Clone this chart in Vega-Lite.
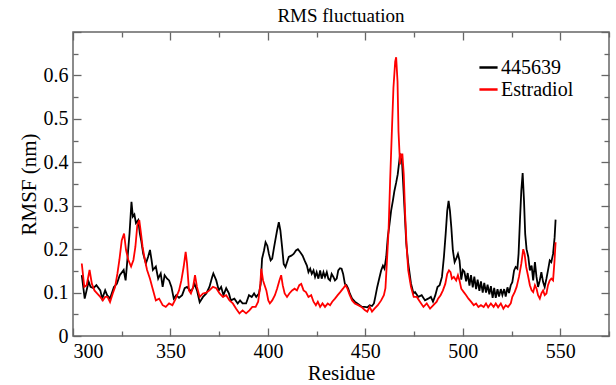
{
  "$schema": "https://vega.github.io/schema/vega-lite/v6.json",
  "width": 536,
  "height": 304,
  "autosize": {"type": "none"},
  "padding": {"left": 73, "top": 32, "right": 7, "bottom": 49},
  "background": "white",
  "title": {"text": "RMS fluctuation", "font": "Times New Roman, Liberation Serif, serif", "fontSize": 19, "fontWeight": "normal", "color": "black", "anchor": "middle", "offset": 5},
  "config": {
    "font": "Times New Roman, Liberation Serif, serif",
    "view": {"stroke": "#666666", "strokeWidth": 1.5},
    "axis": {"labelFont": "Times New Roman, Liberation Serif, serif", "labelFontSize": 20, "labelColor": "black", "titleFont": "Times New Roman, Liberation Serif, serif", "titleFontSize": 21, "titleFontWeight": "normal", "titleColor": "black", "tickColor": "#666666", "tickWidth": 1.3, "domain": false, "grid": false},
    "legend": {"orient": "none", "legendX": 405, "legendY": 25, "title": null, "symbolType": "stroke", "symbolSize": 330, "symbolStrokeWidth": 2.5, "labelFont": "Times New Roman, Liberation Serif, serif", "labelFontSize": 20, "labelColor": "black", "labelOffset": 2, "rowPadding": 1}
  },
  "datasets": {
    "black": [
      {"residue":304.5,"rmsf":0.14},{"residue":306,"rmsf":0.086},{"residue":308,"rmsf":0.125},{"residue":309,"rmsf":0.113},{"residue":310.5,"rmsf":0.11},{"residue":312,"rmsf":0.117},{"residue":314,"rmsf":0.105},{"residue":315,"rmsf":0.086},{"residue":316.5,"rmsf":0.105},{"residue":317.5,"rmsf":0.094},{"residue":319,"rmsf":0.086},{"residue":321,"rmsf":0.113},{"residue":322.5,"rmsf":0.12},{"residue":324,"rmsf":0.14},{"residue":326,"rmsf":0.152},{"residue":327,"rmsf":0.128},{"residue":327.8,"rmsf":0.17},{"residue":329,"rmsf":0.236},{"residue":330,"rmsf":0.309},{"residue":330.7,"rmsf":0.275},{"residue":331.5,"rmsf":0.28},{"residue":332.3,"rmsf":0.26},{"residue":333.5,"rmsf":0.267},{"residue":334.3,"rmsf":0.236},{"residue":335,"rmsf":0.22},{"residue":336,"rmsf":0.19},{"residue":337.4,"rmsf":0.167},{"residue":338.5,"rmsf":0.182},{"residue":339.5,"rmsf":0.198},{"residue":340.3,"rmsf":0.175},{"residue":341,"rmsf":0.152},{"residue":342.5,"rmsf":0.16},{"residue":343.7,"rmsf":0.132},{"residue":345,"rmsf":0.144},{"residue":346,"rmsf":0.113},{"residue":347,"rmsf":0.14},{"residue":348.3,"rmsf":0.132},{"residue":349.3,"rmsf":0.128},{"residue":350.5,"rmsf":0.113},{"residue":351.7,"rmsf":0.086},{"residue":353,"rmsf":0.094},{"residue":354.4,"rmsf":0.088},{"residue":356,"rmsf":0.094},{"residue":357.3,"rmsf":0.11},{"residue":358.5,"rmsf":0.113},{"residue":360,"rmsf":0.105},{"residue":361,"rmsf":0.105},{"residue":362.4,"rmsf":0.12},{"residue":363.6,"rmsf":0.105},{"residue":365,"rmsf":0.078},{"residue":366.7,"rmsf":0.09},{"residue":368.4,"rmsf":0.098},{"residue":370,"rmsf":0.113},{"residue":371.4,"rmsf":0.136},{"residue":372,"rmsf":0.144},{"residue":373.5,"rmsf":0.128},{"residue":374.8,"rmsf":0.105},{"residue":376,"rmsf":0.113},{"residue":377.2,"rmsf":0.094},{"residue":378.6,"rmsf":0.11},{"residue":380,"rmsf":0.098},{"residue":381,"rmsf":0.082},{"residue":382.8,"rmsf":0.086},{"residue":384.5,"rmsf":0.075},{"residue":385.7,"rmsf":0.082},{"residue":387,"rmsf":0.075},{"residue":388.8,"rmsf":0.075},{"residue":390.3,"rmsf":0.094},{"residue":391.7,"rmsf":0.09},{"residue":392.9,"rmsf":0.098},{"residue":394,"rmsf":0.09},{"residue":395.4,"rmsf":0.098},{"residue":396.3,"rmsf":0.12},{"residue":397,"rmsf":0.178},{"residue":398,"rmsf":0.197},{"residue":398.8,"rmsf":0.216},{"residue":399.7,"rmsf":0.208},{"residue":400.5,"rmsf":0.189},{"residue":401.4,"rmsf":0.174},{"residue":402.2,"rmsf":0.178},{"residue":403,"rmsf":0.2},{"residue":403.9,"rmsf":0.223},{"residue":404.7,"rmsf":0.243},{"residue":405.6,"rmsf":0.262},{"residue":406.4,"rmsf":0.243},{"residue":407.3,"rmsf":0.204},{"residue":408.1,"rmsf":0.166},{"residue":409,"rmsf":0.159},{"residue":409.8,"rmsf":0.17},{"residue":410.7,"rmsf":0.182},{"residue":412,"rmsf":0.185},{"residue":413.2,"rmsf":0.189},{"residue":414.4,"rmsf":0.197},{"residue":415.4,"rmsf":0.2},{"residue":416.6,"rmsf":0.193},{"residue":417.8,"rmsf":0.185},{"residue":418.8,"rmsf":0.174},{"residue":420,"rmsf":0.162},{"residue":420.8,"rmsf":0.147},{"residue":421.7,"rmsf":0.155},{"residue":422.5,"rmsf":0.143},{"residue":423.4,"rmsf":0.151},{"residue":424.2,"rmsf":0.136},{"residue":425,"rmsf":0.147},{"residue":425.9,"rmsf":0.132},{"residue":426.8,"rmsf":0.151},{"residue":427.6,"rmsf":0.132},{"residue":428.5,"rmsf":0.147},{"residue":429.3,"rmsf":0.136},{"residue":430.2,"rmsf":0.147},{"residue":431,"rmsf":0.132},{"residue":431.9,"rmsf":0.128},{"residue":432.7,"rmsf":0.143},{"residue":433.6,"rmsf":0.136},{"residue":434.4,"rmsf":0.128},{"residue":435.3,"rmsf":0.132},{"residue":436.1,"rmsf":0.151},{"residue":437,"rmsf":0.156},{"residue":437.8,"rmsf":0.155},{"residue":438.6,"rmsf":0.143},{"residue":439.5,"rmsf":0.12},{"residue":440.3,"rmsf":0.117},{"residue":441.2,"rmsf":0.109},{"residue":442,"rmsf":0.098},{"residue":443.2,"rmsf":0.086},{"residue":444.6,"rmsf":0.079},{"residue":445.9,"rmsf":0.075},{"residue":447.1,"rmsf":0.071},{"residue":448.3,"rmsf":0.067},{"residue":449.7,"rmsf":0.067},{"residue":451,"rmsf":0.066},{"residue":452.2,"rmsf":0.071},{"residue":453.4,"rmsf":0.069},{"residue":454.4,"rmsf":0.075},{"residue":455.1,"rmsf":0.09},{"residue":456.1,"rmsf":0.113},{"residue":457.3,"rmsf":0.136},{"residue":458.1,"rmsf":0.151},{"residue":459,"rmsf":0.162},{"residue":459.8,"rmsf":0.155},{"residue":460.7,"rmsf":0.182},{"residue":461.5,"rmsf":0.227},{"residue":462.4,"rmsf":0.258},{"residue":463.2,"rmsf":0.288},{"residue":464.1,"rmsf":0.311},{"residue":464.9,"rmsf":0.334},{"residue":465.8,"rmsf":0.353},{"residue":466.6,"rmsf":0.372},{"residue":467.8,"rmsf":0.418},{"residue":468.7,"rmsf":0.41},{"residue":469.3,"rmsf":0.36},{"residue":470,"rmsf":0.3},{"residue":471,"rmsf":0.213},{"residue":472,"rmsf":0.167},{"residue":473.4,"rmsf":0.121},{"residue":474.7,"rmsf":0.098},{"residue":475.5,"rmsf":0.101},{"residue":477.2,"rmsf":0.09},{"residue":478.9,"rmsf":0.094},{"residue":480.6,"rmsf":0.082},{"residue":482.2,"rmsf":0.086},{"residue":483.6,"rmsf":0.09},{"residue":484.7,"rmsf":0.079},{"residue":485.9,"rmsf":0.094},{"residue":487,"rmsf":0.113},{"residue":488.1,"rmsf":0.117},{"residue":489.3,"rmsf":0.136},{"residue":490.3,"rmsf":0.182},{"residue":491.2,"rmsf":0.235},{"residue":492,"rmsf":0.288},{"residue":492.7,"rmsf":0.311},{"residue":493.4,"rmsf":0.288},{"residue":494.1,"rmsf":0.25},{"residue":494.9,"rmsf":0.197},{"residue":495.8,"rmsf":0.17},{"residue":496.6,"rmsf":0.178},{"residue":497.5,"rmsf":0.189},{"residue":498.3,"rmsf":0.174},{"residue":499.2,"rmsf":0.13},{"residue":500,"rmsf":0.152},{"residue":500.8,"rmsf":0.148},{"residue":501.7,"rmsf":0.126},{"residue":502.5,"rmsf":0.145},{"residue":503.4,"rmsf":0.116},{"residue":504.2,"rmsf":0.14},{"residue":505.1,"rmsf":0.112},{"residue":505.9,"rmsf":0.137},{"residue":506.8,"rmsf":0.108},{"residue":507.6,"rmsf":0.13},{"residue":508.5,"rmsf":0.104},{"residue":509.3,"rmsf":0.126},{"residue":510.2,"rmsf":0.1},{"residue":511,"rmsf":0.122},{"residue":511.9,"rmsf":0.1},{"residue":512.7,"rmsf":0.118},{"residue":513.6,"rmsf":0.096},{"residue":514.4,"rmsf":0.115},{"residue":515.3,"rmsf":0.088},{"residue":516.1,"rmsf":0.111},{"residue":516.9,"rmsf":0.088},{"residue":517.8,"rmsf":0.108},{"residue":518.6,"rmsf":0.091},{"residue":519.5,"rmsf":0.108},{"residue":520.3,"rmsf":0.094},{"residue":521.2,"rmsf":0.108},{"residue":522,"rmsf":0.091},{"residue":522.9,"rmsf":0.112},{"residue":523.7,"rmsf":0.099},{"residue":524.6,"rmsf":0.117},{"residue":525.4,"rmsf":0.124},{"residue":526.3,"rmsf":0.151},{"residue":527.1,"rmsf":0.159},{"residue":528,"rmsf":0.155},{"residue":528.6,"rmsf":0.189},{"residue":529.3,"rmsf":0.265},{"residue":530,"rmsf":0.334},{"residue":530.7,"rmsf":0.375},{"residue":531.4,"rmsf":0.311},{"residue":532,"rmsf":0.235},{"residue":532.7,"rmsf":0.2},{"residue":533.6,"rmsf":0.182},{"residue":534.4,"rmsf":0.151},{"residue":535.3,"rmsf":0.162},{"residue":536.1,"rmsf":0.128},{"residue":537,"rmsf":0.17},{"residue":537.8,"rmsf":0.136},{"residue":538.6,"rmsf":0.113},{"residue":539.5,"rmsf":0.128},{"residue":540.3,"rmsf":0.147},{"residue":541.2,"rmsf":0.124},{"residue":542,"rmsf":0.113},{"residue":542.9,"rmsf":0.132},{"residue":543.7,"rmsf":0.151},{"residue":544.6,"rmsf":0.174},{"residue":545.4,"rmsf":0.17},{"residue":546.3,"rmsf":0.189},{"residue":547.1,"rmsf":0.227},{"residue":547.6,"rmsf":0.268}
    ],
    "red": [
      {"residue":304.5,"rmsf":0.167},{"residue":305.8,"rmsf":0.113},{"residue":307,"rmsf":0.117},{"residue":308.5,"rmsf":0.152},{"residue":309.7,"rmsf":0.12},{"residue":311,"rmsf":0.105},{"residue":312,"rmsf":0.1},{"residue":314,"rmsf":0.09},{"residue":315.3,"rmsf":0.082},{"residue":316.5,"rmsf":0.09},{"residue":317.7,"rmsf":0.09},{"residue":319,"rmsf":0.078},{"residue":320.4,"rmsf":0.098},{"residue":321.6,"rmsf":0.113},{"residue":322.8,"rmsf":0.144},{"residue":323.8,"rmsf":0.175},{"residue":325,"rmsf":0.22},{"residue":326.2,"rmsf":0.236},{"residue":327.2,"rmsf":0.198},{"residue":328.4,"rmsf":0.175},{"residue":329.8,"rmsf":0.16},{"residue":331,"rmsf":0.175},{"residue":332,"rmsf":0.205},{"residue":333,"rmsf":0.255},{"residue":334,"rmsf":0.267},{"residue":334.9,"rmsf":0.236},{"residue":335.7,"rmsf":0.205},{"residue":336.9,"rmsf":0.175},{"residue":338,"rmsf":0.152},{"residue":339.5,"rmsf":0.132},{"residue":340.8,"rmsf":0.11},{"residue":342.5,"rmsf":0.082},{"residue":344.2,"rmsf":0.086},{"residue":346,"rmsf":0.071},{"residue":347.6,"rmsf":0.067},{"residue":349.3,"rmsf":0.075},{"residue":351,"rmsf":0.071},{"residue":352.7,"rmsf":0.086},{"residue":354.4,"rmsf":0.105},{"residue":355.6,"rmsf":0.128},{"residue":356.8,"rmsf":0.16},{"residue":357.8,"rmsf":0.194},{"residue":358.5,"rmsf":0.167},{"residue":359.5,"rmsf":0.105},{"residue":360.5,"rmsf":0.098},{"residue":361.6,"rmsf":0.113},{"residue":362.6,"rmsf":0.14},{"residue":363.6,"rmsf":0.113},{"residue":365,"rmsf":0.09},{"residue":366.7,"rmsf":0.098},{"residue":368.4,"rmsf":0.1},{"residue":370,"rmsf":0.105},{"residue":371.8,"rmsf":0.113},{"residue":373.5,"rmsf":0.11},{"residue":375.2,"rmsf":0.098},{"residue":376.9,"rmsf":0.09},{"residue":378.6,"rmsf":0.094},{"residue":380.3,"rmsf":0.082},{"residue":382,"rmsf":0.075},{"residue":383.7,"rmsf":0.063},{"residue":385.4,"rmsf":0.052},{"residue":387,"rmsf":0.059},{"residue":388.8,"rmsf":0.052},{"residue":390.5,"rmsf":0.059},{"residue":392,"rmsf":0.067},{"residue":393.7,"rmsf":0.067},{"residue":395,"rmsf":0.079},{"residue":396,"rmsf":0.113},{"residue":396.6,"rmsf":0.155},{"residue":397.5,"rmsf":0.128},{"residue":398.3,"rmsf":0.117},{"residue":399.2,"rmsf":0.105},{"residue":400.2,"rmsf":0.082},{"residue":401,"rmsf":0.075},{"residue":402.2,"rmsf":0.082},{"residue":403.6,"rmsf":0.094},{"residue":404.7,"rmsf":0.109},{"residue":405.9,"rmsf":0.128},{"residue":406.8,"rmsf":0.14},{"residue":407.6,"rmsf":0.117},{"residue":408.6,"rmsf":0.098},{"residue":409.8,"rmsf":0.09},{"residue":411,"rmsf":0.098},{"residue":412.4,"rmsf":0.105},{"residue":413.7,"rmsf":0.109},{"residue":414.9,"rmsf":0.105},{"residue":416.1,"rmsf":0.117},{"residue":417.1,"rmsf":0.12},{"residue":418.3,"rmsf":0.105},{"residue":419.5,"rmsf":0.101},{"residue":420.8,"rmsf":0.09},{"residue":422.2,"rmsf":0.094},{"residue":423.4,"rmsf":0.079},{"residue":424.6,"rmsf":0.071},{"residue":425.6,"rmsf":0.079},{"residue":426.8,"rmsf":0.067},{"residue":428,"rmsf":0.075},{"residue":429.3,"rmsf":0.067},{"residue":430.7,"rmsf":0.075},{"residue":431.9,"rmsf":0.071},{"residue":433,"rmsf":0.079},{"residue":434.4,"rmsf":0.086},{"residue":435.8,"rmsf":0.094},{"residue":437.1,"rmsf":0.101},{"residue":438.5,"rmsf":0.109},{"residue":439.8,"rmsf":0.117},{"residue":440.8,"rmsf":0.109},{"residue":442,"rmsf":0.094},{"residue":443.2,"rmsf":0.082},{"residue":444.6,"rmsf":0.075},{"residue":446.3,"rmsf":0.071},{"residue":448,"rmsf":0.067},{"residue":449.7,"rmsf":0.06},{"residue":451,"rmsf":0.056},{"residue":452.2,"rmsf":0.067},{"residue":453.4,"rmsf":0.056},{"residue":454.7,"rmsf":0.063},{"residue":456.4,"rmsf":0.071},{"residue":458.1,"rmsf":0.082},{"residue":459.5,"rmsf":0.094},{"residue":460.3,"rmsf":0.11},{"residue":461,"rmsf":0.166},{"residue":461.9,"rmsf":0.243},{"residue":462.7,"rmsf":0.357},{"residue":463.6,"rmsf":0.471},{"residue":464.4,"rmsf":0.571},{"residue":465.3,"rmsf":0.632},{"residue":465.8,"rmsf":0.642},{"residue":466.5,"rmsf":0.586},{"residue":467,"rmsf":0.471},{"residue":467.8,"rmsf":0.395},{"residue":468.3,"rmsf":0.418},{"residue":469,"rmsf":0.418},{"residue":469.7,"rmsf":0.372},{"residue":470.4,"rmsf":0.281},{"residue":471.2,"rmsf":0.204},{"residue":472,"rmsf":0.151},{"residue":473.4,"rmsf":0.113},{"residue":474.8,"rmsf":0.09},{"residue":476.4,"rmsf":0.09},{"residue":478,"rmsf":0.079},{"residue":479.8,"rmsf":0.067},{"residue":481.5,"rmsf":0.075},{"residue":483.2,"rmsf":0.063},{"residue":484.9,"rmsf":0.071},{"residue":486.6,"rmsf":0.079},{"residue":487.3,"rmsf":0.086},{"residue":488.6,"rmsf":0.094},{"residue":489.8,"rmsf":0.105},{"residue":491,"rmsf":0.12},{"residue":492,"rmsf":0.143},{"residue":492.9,"rmsf":0.151},{"residue":493.7,"rmsf":0.147},{"residue":494.4,"rmsf":0.132},{"residue":495.4,"rmsf":0.136},{"residue":496.6,"rmsf":0.128},{"residue":497.5,"rmsf":0.14},{"residue":498.3,"rmsf":0.128},{"residue":499.2,"rmsf":0.109},{"residue":500.5,"rmsf":0.101},{"residue":501.7,"rmsf":0.094},{"residue":502.9,"rmsf":0.086},{"residue":504.2,"rmsf":0.079},{"residue":505.6,"rmsf":0.071},{"residue":506.8,"rmsf":0.075},{"residue":508,"rmsf":0.067},{"residue":509.3,"rmsf":0.071},{"residue":510.7,"rmsf":0.067},{"residue":511.9,"rmsf":0.075},{"residue":513,"rmsf":0.066},{"residue":514.4,"rmsf":0.075},{"residue":515.8,"rmsf":0.067},{"residue":516.9,"rmsf":0.075},{"residue":518.1,"rmsf":0.066},{"residue":519.5,"rmsf":0.075},{"residue":520.8,"rmsf":0.063},{"residue":522,"rmsf":0.071},{"residue":523.2,"rmsf":0.067},{"residue":524.6,"rmsf":0.075},{"residue":525.4,"rmsf":0.09},{"residue":526.6,"rmsf":0.101},{"residue":527.6,"rmsf":0.113},{"residue":528.8,"rmsf":0.136},{"residue":530,"rmsf":0.166},{"residue":531,"rmsf":0.2},{"residue":531.7,"rmsf":0.189},{"residue":532.5,"rmsf":0.159},{"residue":533.4,"rmsf":0.14},{"residue":534.4,"rmsf":0.117},{"residue":535.3,"rmsf":0.105},{"residue":536.1,"rmsf":0.101},{"residue":537,"rmsf":0.117},{"residue":537.8,"rmsf":0.109},{"residue":538.6,"rmsf":0.094},{"residue":539.5,"rmsf":0.086},{"residue":540.3,"rmsf":0.098},{"residue":541.2,"rmsf":0.105},{"residue":542,"rmsf":0.094},{"residue":542.9,"rmsf":0.098},{"residue":543.7,"rmsf":0.117},{"residue":544.6,"rmsf":0.128},{"residue":545.4,"rmsf":0.132},{"residue":546.3,"rmsf":0.128},{"residue":547,"rmsf":0.17},{"residue":547.6,"rmsf":0.216}
    ]
  },
  "layer": [
    {
      "data": {"name": "black"},
      "mark": {"type": "line", "strokeWidth": 1.8},
      "encoding": {
        "x": {"field": "residue", "type": "quantitative", "scale": {"domain": [300, 575], "nice": false, "zero": false},
          "axis": {"orient": "bottom", "title": "Residue", "labelFont": "Times New Roman, Liberation Serif, serif", "titleFont": "Times New Roman, Liberation Serif, serif", "values": [300,325,350,375,400,425,450,475,500,525,550,575], "format": "d", "labelExpr": "datum.value % 50 === 0 && datum.value < 570 ? datum.label : ''", "tickSize": {"condition": {"test": "datum.value % 50 === 0", "value": -8}, "value": -5}, "labelPadding": 13, "titlePadding": 1}},
        "y": {"field": "rmsf", "type": "quantitative", "scale": {"domain": [0, 0.7], "nice": false},
          "axis": {"orient": "left", "title": "RMSF (nm)", "labelFont": "Times New Roman, Liberation Serif, serif", "titleFont": "Times New Roman, Liberation Serif, serif", "values": [0,0.05,0.1,0.15,0.2,0.25,0.3,0.35,0.4,0.45,0.5,0.55,0.6,0.65,0.7], "labelExpr": "round(datum.value*20) % 2 === 0 && datum.value < 0.69 ? format(datum.value, '~g') : ''", "tickSize": {"condition": {"test": "round(datum.value*20) % 2 === 0", "value": -8}, "value": -5}, "labelPadding": 13, "titlePadding": 4}},
        "color": {"datum": "445639", "type": "nominal", "scale": {"domain": ["445639", "Estradiol"], "range": ["#000000", "#ff0000"]}, "legend": {"labelFont": "Times New Roman, Liberation Serif, serif"}}
      }
    },
    {
      "data": {"name": "red"},
      "mark": {"type": "line", "strokeWidth": 1.8},
      "encoding": {
        "x": {"field": "residue", "type": "quantitative",
          "axis": {"orient": "top", "title": null, "labels": false, "values": [300,325,350,375,400,425,450,475,500,525,550,575], "tickSize": {"condition": {"test": "datum.value % 50 === 0", "value": -8}, "value": -5}}},
        "y": {"field": "rmsf", "type": "quantitative",
          "axis": {"orient": "right", "title": null, "labels": false, "values": [0,0.05,0.1,0.15,0.2,0.25,0.3,0.35,0.4,0.45,0.5,0.55,0.6,0.65,0.7], "tickSize": {"condition": {"test": "round(datum.value*20) % 2 === 0", "value": -8}, "value": -5}}},
        "color": {"datum": "Estradiol", "type": "nominal"}
      }
    }
  ],
  "resolve": {"axis": {"x": "independent", "y": "independent"}}
}
